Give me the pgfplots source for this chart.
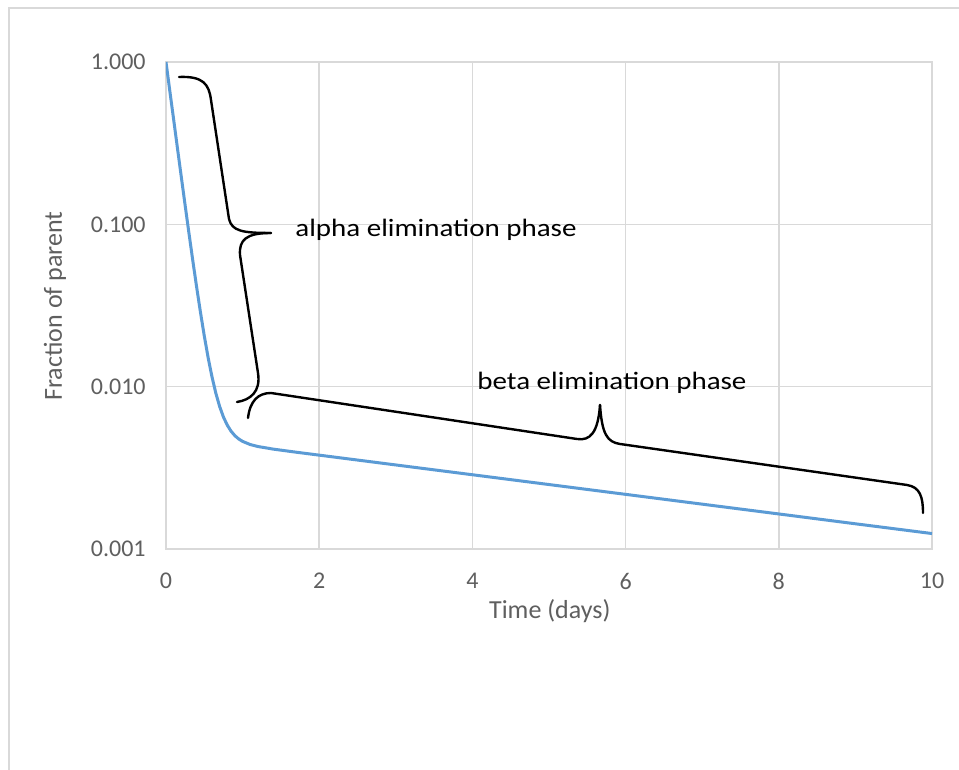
\documentclass[border=0pt]{standalone}
\usepackage{fontspec}
\setmainfont{Carlito}
\usepackage{graphicx}
\usepackage{pgfplots}
\pgfplotsset{compat=1.18}
\definecolor{gridgray}{RGB}{217,217,217}
\definecolor{labgray}{RGB}{95,95,95}
\definecolor{curveblue}{RGB}{91,155,213}
\begin{document}
\begin{tikzpicture}
\useasboundingbox[fill=white] (0pt,0pt) rectangle (479.5pt,385pt);
\begin{axis}[
  at={(83pt,110.5pt)}, anchor=south west,
  scale only axis, width=383pt, height=243.5pt,
  xmin=0, xmax=10, ymin=0.001, ymax=1, ymode=log,
  xtick={0,2,4,6,8,10},
  ytick={0.001,0.01,0.1,1},
  yticklabels={0.001,0.010,0.100,1.000},
  yminorticks=false, xminorticks=false,
  xmajorgrids, ymajorgrids,
  grid style={color=gridgray, line width=0.75pt},
  axis line style={color=gridgray, line width=0.75pt},
  tick style={draw=none}, major tick length=0pt,
  /pgf/number format/assume math mode=true,
  tick label style={font=\fontsize{12}{14}\selectfont, text=labgray, inner sep=0pt},
  yticklabel style={anchor=east, xshift=-10pt},
  xticklabel style={anchor=north, yshift=-12pt},
  xlabel={Time (days)}, ylabel={Fraction of parent},
  label style={font=\fontsize{13}{15}\selectfont, text=labgray, inner sep=0pt},
  xlabel style={at={(axis description cs:0.501,-0.1437)}, anchor=base},
  ylabel style={at={(axis description cs:-0.1358,0.499)}, anchor=base, rotate=0},
]
\addplot[curveblue, line width=1.5pt, mark=none] coordinates {
(0,1.000)(0.05,0.6624)(0.1,0.4414)(0.15,0.2933)(0.2,0.1954)(0.25,0.1307)
(0.3,0.08798)(0.35,0.0597)(0.4,0.04104)(0.45,0.0287)(0.5,0.02051)(0.55,0.0151)
(0.6,0.01152)(0.65,0.00914)(0.7,0.007555)(0.75,0.006499)(0.8,0.005791)
(0.85,0.005313)(0.9,0.004986)(0.95,0.00476)(1.0,0.004601)(1.1,0.004400)
(1.2,0.004279)(1.4,0.004124)(1.7,0.003947)(2,0.003786)(3,0.003294)
(4,0.002867)(5,0.002495)(6,0.002171)(7,0.001889)(8,0.001644)(9,0.001430)
(10,0.001245)};
\end{axis}
\begin{scope}[shift={(0pt,385pt)}, x=0.5pt, y=-0.5pt]
  % outer frame (top and left edges)
  \draw[gridgray, line width=1pt] (9,770) -- (9,8) -- (959,8);
  % alpha brace
  \draw[black, line width=1.2pt, line cap=round]
    (179,77) .. controls (203,76) and (209,84) .. (211,100)
    -- (229,219) .. controls (232,231) and (242,233) .. (271,233);
  \draw[black, line width=1.2pt, line cap=round]
    (271,233) .. controls (246,233) and (239,240) .. (240,255)
    -- (258,373) .. controls (261,392) and (250,400) .. (237,402);
  % beta brace
  \draw[black, line width=1.2pt, line cap=round]
    (248,418) .. controls (250,401) and (258,393) .. (271,393)
    -- (577,439) .. controls (590,441) and (598,433) .. (600,405);
  \draw[black, line width=1.2pt, line cap=round]
    (600,405) .. controls (602,434) and (607,442) .. (620,444)
    -- (907,485) .. controls (920,487) and (923,497) .. (923,513);
  \node[anchor=base west, inner sep=0pt, font=\fontsize{12.5}{15}\selectfont]
    at (295,237) {\scalebox{1.16}[1]{alpha elimination phase}};
  \node[anchor=base west, inner sep=0pt, font=\fontsize{12.5}{15}\selectfont]
    at (477,390) {\scalebox{1.16}[1]{beta elimination phase}};
\end{scope}
\end{tikzpicture}
\end{document}
